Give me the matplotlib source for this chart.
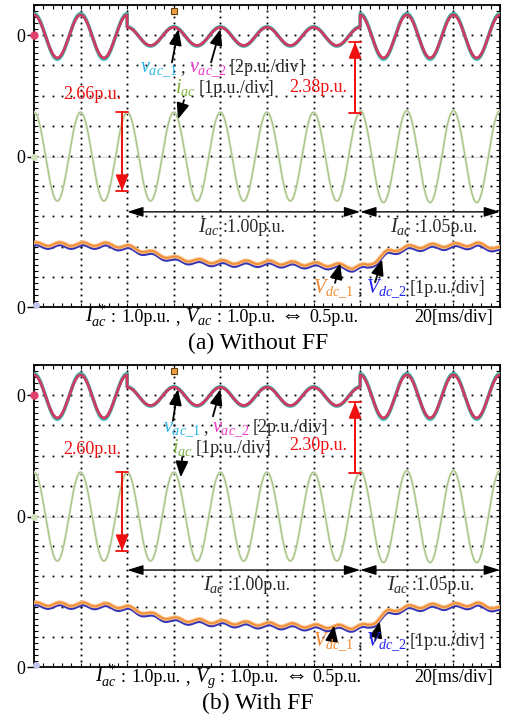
import numpy as np
import matplotlib
matplotlib.use("Agg")
import matplotlib.pyplot as plt
from matplotlib.ticker import MultipleLocator

plt.rcParams["font.family"] = ["Liberation Serif", "DejaVu Serif"]
plt.rcParams["mathtext.fontset"] = "custom"
plt.rcParams["mathtext.rm"] = "Liberation Serif"
plt.rcParams["mathtext.it"] = "Liberation Serif:italic"

# ── Data (all in scope divisions, 10 x 10 div, 20 ms/div) ───
step_edges = [2.0, 7.0]              # Vac step 1.0 -> 0.5 -> 1.0 p.u.
vac_center = 8.96
vac_amp = [0.71, 0.30, 0.71]         # per segment
iac_center = 4.98
iac_amp = [1.47, 1.47, 1.52]

vdc_t = [0, 0.5, 1, 1.5, 2, 2.5, 3, 3.5, 4, 4.5, 5, 5.5, 6, 6.5, 6.85,
         7.15, 7.35, 7.6, 8, 8.5, 9, 9.5, 10]
vdc_a = [2.05, 2.05, 2.05, 2.05, 1.97, 1.78, 1.59, 1.50, 1.46, 1.45, 1.45,
         1.42, 1.39, 1.36, 1.29, 1.35, 1.52, 1.82, 1.95, 2.00, 2.02, 2.05, 1.92]
vdc_b = [2.05, 2.05, 2.05, 2.03, 1.95, 1.72, 1.56, 1.50, 1.46, 1.42, 1.39,
         1.36, 1.32, 1.31, 1.29, 1.35, 1.50, 1.82, 1.95, 2.00, 2.02, 2.05, 1.92]
vdc_ripple = 0.06

W, H = 505, 725
TEAL, CRIM = "#3DB3A6", "#CF3A62"
GHALO, GREEN = "#E0EBD0", "#A6C286"
OHALO, ORANGE, BLUE = "#F8BC80", "#EE8E3A", "#3434B8"
RED, GRAY = "#F01010", "#2A2A2A"
C_V1, C_V2, C_I = "#2BB5EA", "#F03CC8", "#7DB23F"
C_D1, C_D2 = "#F08A30", "#2020F0"

fig = plt.figure(figsize=(W / 100, H / 100), dpi=100)


def draw_scope(ax, vdc_lvl):
    ax.set_xlim(0, 10)
    ax.set_ylim(0, 10)
    # graticule dots
    g = np.arange(0, 10.001, 0.2)
    for k in range(1, 10):
        ax.plot(g, np.full_like(g, k), ls="none", marker="s", ms=1.3,
                mew=0, color="k", zorder=1)
        ax.plot(np.full_like(g, k), g, ls="none", marker="s", ms=1.3,
                mew=0, color="k", zorder=1)
    ax.axhline(iac_center, color="#D8D8D8", lw=0.8, zorder=0.5)

    t = np.linspace(0, 10, 4001)
    seg = np.searchsorted(step_edges, t, side="right")
    ph = np.cos(2 * np.pi * t)
    va = np.array(vac_amp)[seg]
    ax.plot(t, vac_center + 1.06 * va * ph, color=TEAL, lw=2.6, zorder=3)
    ax.plot(t, vac_center + va * ph, color=CRIM, lw=2.0, zorder=4)

    ia = np.array(iac_amp)[seg]
    ax.plot(t, iac_center + ia * ph, color=GHALO, lw=1.9, zorder=3)
    ax.plot(t, iac_center + ia * ph, color=GREEN, lw=0.9, zorder=4)

    dc = np.interp(t, vdc_t, vdc_lvl) + vdc_ripple * np.cos(4 * np.pi * (t - 0.05))
    ax.plot(t, dc - 0.06, color=BLUE, lw=1.8, zorder=3)
    ax.plot(t, dc + 0.03, color=OHALO, lw=2.8, zorder=4)
    ax.plot(t, dc + 0.03, color=ORANGE, lw=1.2, zorder=5)

    # channel / trigger markers
    ax.plot([0], [9], marker="o", ms=5, color="#E0406A", clip_on=False, zorder=6)
    ax.plot([0], [iac_center], marker="o", ms=4, color="#D2E3BE", clip_on=False, zorder=6)
    ax.plot([0.05], [0.08], marker="o", ms=4, color="#C4C4EC", clip_on=False, zorder=6)
    ax.plot([3], [9.8], marker="s", ms=4, color="#E8A040", mec="#6A4010",
            mew=0.8, clip_on=False, zorder=6)

    ax.set_xticks([])
    ax.xaxis.set_minor_locator(MultipleLocator(0.2))
    ax.set_yticks([0, iac_center, 9])
    ax.set_yticklabels(["0", "0", "0"])
    ax.yaxis.set_minor_locator(MultipleLocator(0.2))
    ax.tick_params(axis="x", which="minor", direction="in", top=True,
                   bottom=True, length=3, width=0.8)
    ax.tick_params(axis="y", which="minor", direction="in", left=True,
                   right=True, length=3, width=0.8)
    ax.tick_params(axis="y", which="major", direction="out", length=5,
                   width=1.0, labelsize=13, pad=1)
    for s in ax.spines.values():
        s.set_linewidth(1.3)


def black_arrow(ax, start, tip):
    ax.annotate("", xy=tip, xytext=start, zorder=8,
                arrowprops=dict(arrowstyle="-|>,head_length=0.8,head_width=0.32",
                                color="k", lw=1.3, shrinkA=0, shrinkB=0,
                                mutation_scale=12))


def red_span(ax, x, y_tail, y_tip):
    ax.annotate("", xy=(x, y_tip), xytext=(x, y_tail), zorder=8,
                arrowprops=dict(arrowstyle="|-|,widthA=0.45,widthB=0.45",
                                color=RED, lw=1.3, shrinkA=0, shrinkB=0))
    ax.annotate("", xy=(x, y_tip), xytext=(x, y_tail), zorder=8,
                arrowprops=dict(arrowstyle="-|>,head_length=0.8,head_width=0.32",
                                color=RED, lw=1.3, shrinkA=0, shrinkB=0,
                                mutation_scale=12))


def span_arrow(ax, x0, x1, y):
    ax.annotate("", xy=(x1, y), xytext=(x0, y), zorder=8,
                arrowprops=dict(arrowstyle="<|-|>,head_length=0.8,head_width=0.25",
                                color="k", lw=1.0, shrinkA=0, shrinkB=0,
                                mutation_scale=12))


def text_run(x_px, base_px, pieces, size=13):
    # pieces: (text, colour, gap after in px), placed left to right;
    # mathtext pieces are drawn a little larger to match the subscripts
    r = fig.canvas.get_renderer()
    x = x_px
    for s, c, gap in pieces:
        fs = size * 1.12 if s.startswith("$") else size
        if s == "\u21d4":
            fs = size * 1.3
        t = fig.text(x / W, 1 - base_px / H, s, color=c, fontsize=fs,
                     ha="left", va="baseline")
        x += t.get_window_extent(r).width + gap


panels = [
    dict(top=5, vdc=vdc_a, lab1="2.66p.u.", lab2="2.38p.u.", vg=r"$V_{ac}$",
         title="(a) Without FF"),
    dict(top=365, vdc=vdc_b, lab1="2.60p.u.", lab2="2.30p.u.", vg=r"$V_{g}$",
         title="(b) With FF"),
]

for i, p in enumerate(panels):
    top = p["top"]
    ax = fig.add_axes([34 / W, 1 - (top + 302) / H, 466 / W, 302 / H])
    draw_scope(ax, p["vdc"])

    # red amplitude spans
    ax.text(1.25, 7.05 + 0.15 * i, p["lab1"], color=RED, fontsize=13,
            ha="center", va="center", zorder=9)
    red_span(ax, 1.89, 6.46, 3.84)
    ax.text(6.1, 7.28 + 0.05 * i, p["lab2"], color=RED, fontsize=13,
            ha="center", va="center", zorder=9)
    red_span(ax, 6.89, 6.44, 8.77)

    # black pointer arrows
    if i == 0:
        black_arrow(ax, (2.96, 8.1), (3.1, 9.2))
        black_arrow(ax, (3.8, 8.1), (4.0, 9.2))
        black_arrow(ax, (3.22, 6.85), (3.09, 6.22))
        black_arrow(ax, (6.46, 0.8), (6.57, 1.45))
        black_arrow(ax, (7.32, 0.82), (7.47, 1.58))
    else:
        black_arrow(ax, (2.98, 8.15), (3.09, 9.2))
        black_arrow(ax, (3.84, 8.3), (4.0, 9.2))
        black_arrow(ax, (3.18, 6.95), (3.15, 6.28))
        black_arrow(ax, (6.39, 0.88), (6.44, 1.38))
        black_arrow(ax, (7.32, 0.88), (7.42, 1.5))

    span_arrow(ax, 2.0, 7.0, 3.15 + 0.06 * i)
    span_arrow(ax, 7.0, 10.0, 3.15 + 0.06 * i)

    # in-plot labels
    vx = 140 if i == 0 else 163
    text_run(vx, top + 67, [(r"$v_{ac\_1}$", C_V1, 3), (",", GRAY, 4),
                            (r"$v_{ac\_2}$", C_V2, 3), ("[2p.u./div]", GRAY, 0)])
    ix = 175 if i == 0 else 172
    text_run(ix, top + 88, [(r"$i_{ac}$", C_I, 3), ("[1p.u./div]", GRAY, 0)])
    text_run(198 if i == 0 else 203, top + 227 - 2 * i,
             [(r"$I_{ac}$", GRAY, 3), (":1.00p.u.", GRAY, 0)])
    text_run(390 if i == 0 else 387, top + 227 - 2 * i,
             [(r"$I_{ac}$", GRAY, 3), (":1.05p.u.", GRAY, 0)])
    text_run(313, top + 288 - 7 * i, [(r"$V_{dc\_1}$", C_D1, 3), (",", GRAY, 4),
                                      (r"$V_{dc\_2}$", C_D2, 3), ("[1p.u./div]", GRAY, 0)])

    # captions below the screen
    text_run(85 if i == 0 else 95, top + 317,
             [(r"$I_{ac}^{\ *}$", "k", 4), (":", "k", 5), ("1.0p.u.", "k", 5),
              (",", "k", 5), (p["vg"], "k", 4), (":", "k", 5), ("1.0p.u.", "k", 5),
              ("\u21d4", "k", 5), ("0.5p.u.", "k", 0)])
    fig.text(493 / W, 1 - (top + 317) / H, "20[ms/div]", fontsize=13,
             ha="right", va="baseline")
    fig.text(258 / W, 1 - (top + 344) / H, p["title"], fontsize=17,
             ha="center", va="baseline")

fig.savefig("out.png", dpi=100)
